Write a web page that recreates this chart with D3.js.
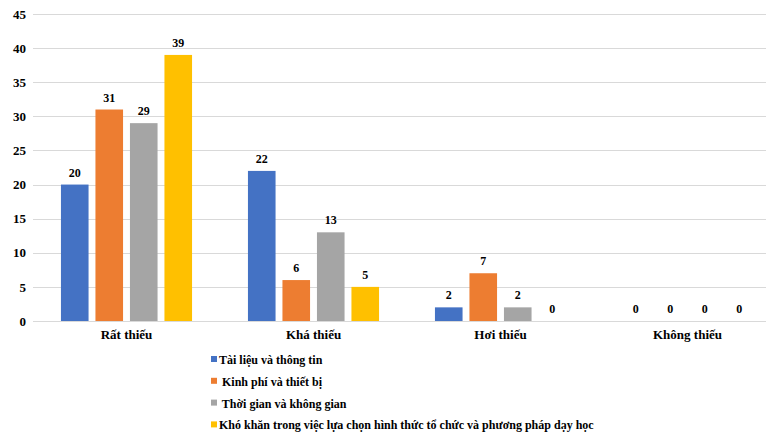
<!DOCTYPE html>
<html>
<head>
<meta charset="utf-8">
<script src="https://cdn.jsdelivr.net/npm/d3@7"></script>
<style>
  body { margin: 0; background: #fff; }
  svg text { font-family: 'Liberation Serif', 'Times New Roman', Times, serif !important; font-weight: bold; fill: #000; }
</style>
</head>
<body>
<div id="viz-container"></div>
<script>
// categories and series
let categories = ["Rất thiếu", "Khá thiếu", "Hơi thiếu", "Không thiếu"];
let seriesNames = [
  "Tài liệu và thông tin",
  " Kinh phí và thiết bị",
  " Thời gian và không gian",
  "Khó khăn trong việc lựa chọn hình thức tổ chức và phương pháp dạy học"
];
let taiLieu   = [20, 22, 2, 0];
let kinhPhi   = [31, 6, 7, 0];
let thoiGian  = [29, 13, 2, 0];
let khoKhan   = [39, 5, 0, 0];
let yTicks = [0, 5, 10, 15, 20, 25, 30, 35, 40, 45];
let colors = ["#4472C4", "#ED7D31", "#A5A5A5", "#FFC000"];

let allSeries = [taiLieu, kinhPhi, thoiGian, khoKhan];

let viz = d3.select("#viz-container")
  .append("svg")
    .attr("width", 766)
    .attr("height", 434)
;

let y = d3.scaleLinear().domain([0, 45]).range([321, 14]);
let x0 = d3.scaleBand().domain(categories).range([33, 781]);
let x1 = d3.scaleBand().domain(d3.range(4))
  .range([24.5, x0.bandwidth() - 24.5])
  .paddingInner(0.2).paddingOuter(0.1);

// gridlines
viz.append("g").selectAll("line")
  .data(yTicks)
  .join("line")
    .attr("x1", 33)
    .attr("x2", 766)
    .attr("y1", d => Math.round(y(d)) + 0.5)
    .attr("y2", d => Math.round(y(d)) + 0.5)
    .attr("stroke", "#d9d9d9")
    .attr("stroke-width", 1)
;

// y axis labels
let yAxis = viz.append("g")
  .attr("transform", "translate(26,0)")
  .call(d3.axisLeft(y).tickValues(yTicks).tickSize(0).tickPadding(0));
yAxis.attr("font-family", null);
yAxis.select(".domain").remove();
yAxis.selectAll("text")
  .style("font-size", "13px")
  .attr("fill", "#000");

// bars
let groups = viz.append("g").selectAll("g")
  .data(categories)
  .join("g")
    .attr("transform", d => "translate(" + x0(d) + ",0)")
;

groups.selectAll("rect")
  .data((c, i) => allSeries.map((s, k) => ({k: k, v: s[i]})))
  .join("rect")
    .attr("x", d => x1(d.k))
    .attr("y", d => y(d.v))
    .attr("width", x1.bandwidth())
    .attr("height", d => y(0) - y(d.v))
    .attr("fill", d => colors[d.k])
;

groups.selectAll("text")
  .data((c, i) => allSeries.map((s, k) => ({k: k, v: s[i]})))
  .join("text")
    .attr("x", d => x1(d.k) + x1.bandwidth() / 2)
    .attr("y", d => y(d.v) - 8)
    .attr("text-anchor", "middle")
    .style("font-size", "12px")
    .text(d => d.v)
;

// category labels
let xAxis = viz.append("g")
  .attr("transform", "translate(0,321)")
  .call(d3.axisBottom(x0).tickSize(0).tickPadding(9));
xAxis.attr("font-family", null);
xAxis.select(".domain").remove();
xAxis.selectAll("text")
  .style("font-size", "13px")
  .attr("fill", "#000");

// legend
let legend = viz.append("g").selectAll("g")
  .data(seriesNames)
  .join("g")
    .attr("transform", (d, i) => "translate(211," + (360 + i * 21.8) + ")")
;
legend.append("rect")
  .attr("x", 0)
  .attr("y", -4)
  .attr("width", 6)
  .attr("height", 6)
  .attr("fill", (d, i) => colors[i]);
legend.append("text")
  .attr("x", 8)
  .attr("y", 4)
  .style("font-size", "12px")
  .style("white-space", "pre")
  .text(d => d);
</script>
</body>
</html>
